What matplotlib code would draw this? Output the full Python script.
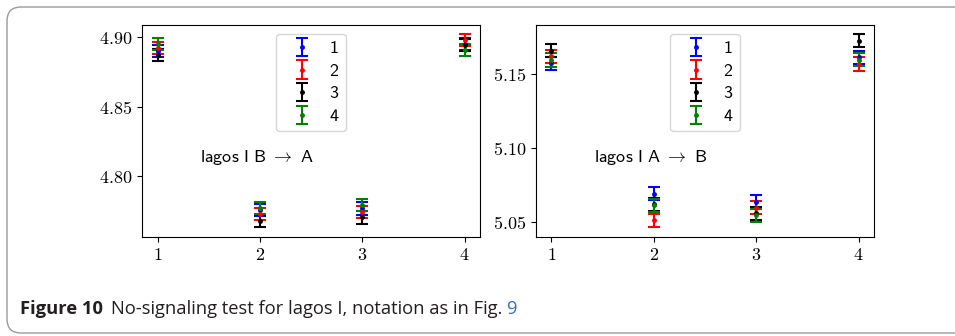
import matplotlib
matplotlib.use("Agg")
import matplotlib.pyplot as plt
from matplotlib.patches import FancyBboxPatch
from matplotlib.ticker import FuncFormatter

plt.rcParams['mathtext.fontset'] = 'cm'

x = [1, 2, 3, 4]
series_labels = ['1', '2', '3', '4']
colors = ['blue', 'red', 'black', 'green']

# Left panel: lagos I B -> A
left_s1 = [4.8900, 4.7758, 4.7770, 4.8952]
left_s2 = [4.8920, 4.7727, 4.7746, 4.8976]
left_s3 = [4.8870, 4.7681, 4.7705, 4.8940]
left_s4 = [4.8950, 4.7775, 4.7794, 4.8904]
left_err = [0.0044, 0.0044, 0.0044, 0.0044]

# Right panel: lagos I A -> B
right_s1 = [5.1575, 5.0692, 5.0636, 5.1615]
right_s2 = [5.1624, 5.0511, 5.0597, 5.1570]
right_s3 = [5.1660, 5.0620, 5.0557, 5.1728]
right_s4 = [5.1597, 5.0613, 5.0545, 5.1600]
right_err = [0.0045, 0.0045, 0.0045, 0.0045]

left_yticks = [4.80, 4.85, 4.90]
right_yticks = [5.05, 5.10, 5.15]

W, H = 955, 336
fig = plt.figure(figsize=(W / 100, H / 100), dpi=100)

# background frame
bg = fig.add_axes([0, 0, 1, 1], zorder=-5)
bg.set_xlim(0, W)
bg.set_ylim(H, 0)
bg.axis('off')
bg.add_patch(FancyBboxPatch((7, 7), 990, 326,
                            boxstyle="round,pad=0,rounding_size=14",
                            fc='white', ec='#9a9a9a', lw=1.0))

def panel(rect, series, err, yticks, label):
    ax = fig.add_axes(rect)
    for s, c, lab in zip(series, colors, series_labels):
        ax.errorbar(x, s, yerr=err, fmt='.', color=c, ecolor=c, capsize=4.5,
                    capthick=1.5, elinewidth=1.5, markersize=5, label=lab)
    ax.set_xticks(x)
    ax.set_yticks(yticks)
    ax.xaxis.set_major_formatter(FuncFormatter(lambda v, p: r'$%d$' % round(v)))
    ax.yaxis.set_major_formatter(FuncFormatter(lambda v, p: r'$%.2f$' % v))
    ax.tick_params(labelsize=13)
    ax.legend(loc='upper center', prop={'family': 'cmss10', 'size': 13},
              handlelength=2.0, handleheight=0.6, labelspacing=0.42,
              borderpad=0.4, handletextpad=0.55)
    ax.text(0.17, 0.375, label, transform=ax.transAxes, fontsize=13,
            ha='left', va='center')
    return ax

panel([0.149, 0.296, 0.3536, 0.631],
      [left_s1, left_s2, left_s3, left_s4], left_err, left_yticks,
      r'$\mathsf{lagos\ I\ B}\ \rightarrow\ \mathsf{A}$')
panel([0.5613, 0.296, 0.354, 0.631],
      [right_s1, right_s2, right_s3, right_s4], right_err, right_yticks,
      r'$\mathsf{lagos\ I\ A}\ \rightarrow\ \mathsf{B}$')

# caption
cap_y = 1 - 309 / H
fs = 13.2
t1 = fig.text(20 / W, cap_y, 'Figure 10', fontsize=fs, fontweight='bold',
              family='Open Sans', color='#231f20', va='center')
fig.canvas.draw()
r = fig.canvas.get_renderer()
bb = t1.get_window_extent(r)
t2 = fig.text(bb.x1 / W + 8 / W, cap_y,
              'No-signaling test for lagos I, notation as in Fig.',
              fontsize=fs, family='Open Sans', color='#231f20', va='center')
fig.canvas.draw()
bb2 = t2.get_window_extent(r)
fig.text(bb2.x1 / W + 4 / W, cap_y, '9', fontsize=fs, family='Open Sans',
         color='#3a6fc0', va='center')

fig.savefig('out.png', dpi=100)
